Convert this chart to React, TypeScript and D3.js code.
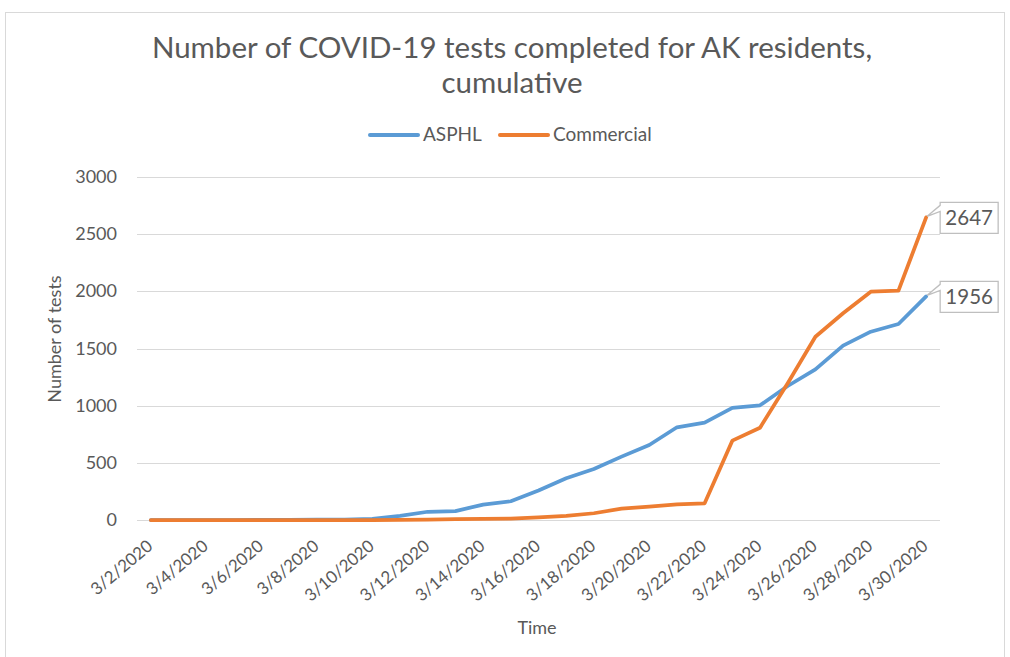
import * as d3 from "d3";
import React from "react";

const dates = [
  "3/2/2020", "3/3/2020", "3/4/2020", "3/5/2020", "3/6/2020", "3/7/2020", "3/8/2020",
  "3/9/2020", "3/10/2020", "3/11/2020", "3/12/2020", "3/13/2020", "3/14/2020", "3/15/2020",
  "3/16/2020", "3/17/2020", "3/18/2020", "3/19/2020", "3/20/2020", "3/21/2020", "3/22/2020",
  "3/23/2020", "3/24/2020", "3/25/2020", "3/26/2020", "3/27/2020", "3/28/2020", "3/29/2020",
  "3/30/2020",
];

const asphl = [
  0, 0, 0, 0, 1, 2, 3, 4, 9, 36, 72, 78, 135, 164, 258,
  365, 446, 554, 656, 811, 851, 980, 1003, 1172, 1318, 1525, 1647, 1714, 1956,
];

const commercial = [
  0, 0, 0, 0, 0, 0, 0, 0, 0, 1, 3, 8, 10, 12, 24,
  37, 59, 99, 117, 137, 146, 694, 807, 1196, 1603, 1808, 1997, 2006, 2647,
];

const yTicks = [0, 500, 1000, 1500, 2000, 2500, 3000];

const seriesNames = ["ASPHL", "Commercial"];
const colors = ["#5B9BD5", "#ED7D31"];

const FONT = "Lato, 'Open Sans', sans-serif";
const TEXT = "#595959";

export default function App() {
  const width = 1010, height = 657;

  const x = d3.scalePoint<string>().domain(dates).range([137, 940]).padding(0.5);
  const y = d3.scaleLinear().domain([0, 3000]).range([520, 177]);

  const line = d3.line<number>()
    .x((_, i) => x(dates[i]) as number)
    .y(d => y(d));

  const series = [asphl, commercial];

  // data label on the last point, Excel style wedge callout
  const callout = (vals: number[], color: string) => {
    const last = vals.length - 1;
    const px = x(dates[last]) as number;
    const py = y(vals[last]);
    const L = px + 14, R = px + 72, T = py - 15, B = py + 16;
    const d = `M${L},${T}H${R}V${B}H${L}V${T + 9}L${px + 1},${py - 1}L${L},${T + 3}Z`;
    return (
      <g key={color}>
        <path d={d} fill="#fff" stroke="#bfbfbf" strokeWidth={1.3} />
        <text x={(L + R) / 2} y={py + 7.5} textAnchor="middle" fontSize={20.5} fill={TEXT}>
          {vals[last]}
        </text>
      </g>
    );
  };

  return (
    <svg width={width} height={height} style={{ position: "absolute", left: 0, top: 0 }}
      fontFamily={FONT}>
      <rect x={0} y={0} width={width} height={height} fill="#fff" />
      <rect x={5.5} y={12.5} width={999} height={660} fill="#fff" stroke="#d9d9d9" strokeWidth={1} />

      <text x={512} y={58} textAnchor="middle" fontSize={29.5} fill={TEXT}>
        Number of COVID-19 tests completed for AK residents,
      </text>
      <text x={512} y={93} textAnchor="middle" fontSize={29.5} fill={TEXT}>
        cumulative
      </text>

      {/* legend */}
      {seriesNames.map((name, i) => {
        const lx = i === 0 ? 370 : 500;
        return (
          <g key={name}>
            <line x1={lx} x2={lx + 48} y1={135} y2={135} stroke={colors[i]} strokeWidth={4} strokeLinecap="round" />
            <text x={lx + 53} y={141} fontSize={19} fill={TEXT}>{name}</text>
          </g>
        );
      })}

      {/* gridlines + y labels */}
      {yTicks.map(t => (
        <g key={t}>
          <line x1={137} x2={940} y1={Math.round(y(t)) + 0.5} y2={Math.round(y(t)) + 0.5}
            stroke="#d9d9d9" strokeWidth={1} />
          <text x={117} y={y(t) + 6} textAnchor="end" fontSize={18} fill={TEXT}>{t}</text>
        </g>
      ))}

      {/* x labels, every other day */}
      {dates.map((d, i) => i % 2 === 0 ? (
        <text key={d} transform={`translate(${(x(d) as number) + 3},${548}) rotate(-40)`}
          textAnchor="end" fontSize={17} fill={TEXT}>{d}</text>
      ) : null)}

      <text transform="translate(61,339) rotate(-90)" textAnchor="middle" fontSize={18} fill={TEXT}>
        Number of tests
      </text>
      <text x={537} y={634} textAnchor="middle" fontSize={18} fill={TEXT}>Time</text>

      {series.map((vals, i) => (
        <path key={i} d={line(vals) || ""} fill="none" stroke={colors[i]} strokeWidth={3.75}
          strokeLinejoin="round" strokeLinecap="round" />
      ))}

      {series.map((vals, i) => callout(vals, colors[i]))}
    </svg>
  );
}
